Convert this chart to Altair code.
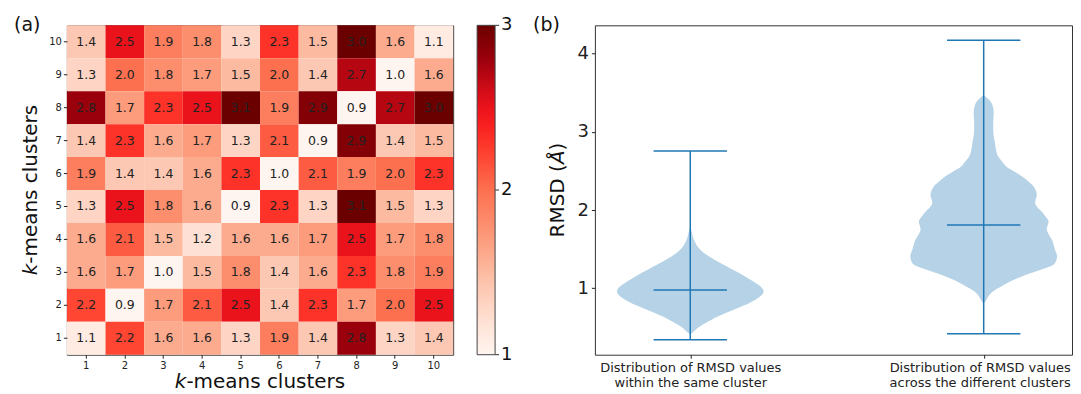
import json
import altair as alt
import pandas as pd

FONT = "DejaVu Sans"

# ---------------- panel (a): heatmap data ----------------
col_ids = [1, 2, 3, 4, 5, 6, 7, 8, 9, 10]
row_ids = [10, 9, 8, 7, 6, 5, 4, 3, 2, 1]
row10 = [1.4, 2.5, 1.9, 1.8, 1.3, 2.3, 1.5, 3.0, 1.6, 1.1]
row9 = [1.3, 2.0, 1.8, 1.7, 1.5, 2.0, 1.4, 2.7, 1.0, 1.6]
row8 = [2.8, 1.7, 2.3, 2.5, 3.1, 1.9, 2.9, 0.9, 2.7, 3.0]
row7 = [1.4, 2.3, 1.6, 1.7, 1.3, 2.1, 0.9, 2.9, 1.4, 1.5]
row6 = [1.9, 1.4, 1.4, 1.6, 2.3, 1.0, 2.1, 1.9, 2.0, 2.3]
row5 = [1.3, 2.5, 1.8, 1.6, 0.9, 2.3, 1.3, 3.1, 1.5, 1.3]
row4 = [1.6, 2.1, 1.5, 1.2, 1.6, 1.6, 1.7, 2.5, 1.7, 1.8]
row3 = [1.6, 1.7, 1.0, 1.5, 1.8, 1.4, 1.6, 2.3, 1.8, 1.9]
row2 = [2.2, 0.9, 1.7, 2.1, 2.5, 1.4, 2.3, 1.7, 2.0, 2.5]
row1 = [1.1, 2.2, 1.6, 1.6, 1.3, 1.9, 1.4, 2.8, 1.3, 1.4]
matrix_rows = [row10, row9, row8, row7, row6, row5, row4, row3, row2, row1]

# colour map as seen in the colour bar, and colour bar ticks
cmap_stops = [1.0, 1.25, 1.5, 1.75, 2.0, 2.25, 2.45, 2.6, 2.8, 3.0]
cmap_colors = ["#fff5f0", "#fedccd", "#fcbba1", "#fc9474", "#fc7050",
               "#ff3b2c", "#f5161c", "#d30d18", "#9a000c", "#6b0000"]
cbar_ticks = [1, 2, 3]
cbar_range = [1, 3]

# ---------------- panel (b): violin data ----------------
positions = [1, 2]
mins = [0.343, 0.419]
medians = [0.98, 1.81]
maxs = [2.754, 4.168]
x_labels = [["Distribution of RMSD values", "within the same cluster"],
            ["Distribution of RMSD values", "across the different clusters"]]
y_ticks = [1, 2, 3, 4]
y_domain = [0.152, 4.359]
x_domain = [0.675, 2.301]

# density profiles: RMSD value and relative half-width (1 = widest)
v1_y = [0.41, 0.45, 0.50, 0.54, 0.60, 0.69, 0.75, 0.81, 0.88, 0.96, 1.03,
        1.11, 1.20, 1.28, 1.35, 1.41, 1.50, 1.62, 1.72, 1.81]
v1_w = [0.0, 0.05, 0.11, 0.18, 0.29, 0.50, 0.65, 0.80, 0.93, 1.0, 0.95,
        0.82, 0.66, 0.50, 0.36, 0.25, 0.13, 0.05, 0.02, 0.0]
v2_y = [0.80, 0.84, 0.90, 0.97, 1.03, 1.10, 1.17, 1.24, 1.30, 1.36, 1.41,
        1.50, 1.62, 1.70, 1.75, 1.80, 1.85, 1.92, 1.98, 2.04, 2.09, 2.14,
        2.19, 2.25, 2.30, 2.37, 2.43, 2.49, 2.55, 2.62, 2.68, 2.76, 2.85,
        3.02, 3.12, 3.25, 3.35, 3.42, 3.47]
v2_w = [0.0, 0.03, 0.065, 0.14, 0.25, 0.39, 0.57, 0.79, 0.95, 0.99, 1.0,
        0.97, 0.93, 0.88, 0.86, 0.87, 0.885, 0.84, 0.79, 0.73, 0.70, 0.71,
        0.725, 0.71, 0.68, 0.60, 0.52, 0.42, 0.315, 0.25, 0.20, 0.17, 0.155,
        0.13, 0.13, 0.137, 0.115, 0.06, 0.0]

BLUE = "#1f77b4"
HALF_WIDTH = 0.25
CAP_HALF = 0.125

# ---------------- tables ----------------
heat_df = pd.DataFrame(
    [{"col": c, "row": r, "val": v}
     for r, vals in zip(row_ids, matrix_rows)
     for c, v in zip(col_ids, vals)]
)
cbar_df = pd.DataFrame({"v": cbar_ticks, "t": [str(t) for t in cbar_ticks]})

body_rows = []
for g, (pos, ys_, ws_) in enumerate([(positions[0], v1_y, v1_w), (positions[1], v2_y, v2_w)]):
    for y, w in zip(ys_, ws_):
        body_rows.append({"g": g, "y": y, "x": pos - HALF_WIDTH * w, "x2": pos + HALF_WIDTH * w})
body_df = pd.DataFrame(body_rows)

cap_rows = []
for pos, a, m, b in zip(positions, mins, medians, maxs):
    for v in (a, m, b):
        cap_rows.append({"x": pos - CAP_HALF, "x2": pos + CAP_HALF, "y": v})
cap_df = pd.DataFrame(cap_rows)
stem_df = pd.DataFrame({"x": positions, "lo": mins, "hi": maxs})


def label(text, x, y, size, angle=0, baseline="middle", style="normal", align="left"):
    return alt.Chart(pd.DataFrame({"t": [text]})).mark_text(
        font=FONT, fontSize=size, angle=angle, baseline=baseline, align=align,
        fontStyle=style, color="#111"
    ).encode(text="t:N", x=alt.value(x), y=alt.value(y))


# ---------------- panel (a) ----------------
HW, HH = 387, 330
CB_OFFSET, CB_THICK = 24, 18
CB_RIGHT = HW + CB_OFFSET + CB_THICK

band = alt.Scale(paddingInner=0, paddingOuter=0)
xs = alt.X("col:O", sort=col_ids, scale=band,
           axis=alt.Axis(title=None, labelAngle=0, labelFontSize=10, tickSize=3.5,
                         labelPadding=2, domain=False))
ys = alt.Y("row:O", sort=row_ids, scale=band,
           axis=alt.Axis(title=None, labelFontSize=10, tickSize=3.5,
                         labelPadding=2, domain=False))
ys_plain = alt.Y("row:O", sort=row_ids, scale=band, axis=None)

rect = alt.Chart(heat_df).mark_rect(strokeWidth=0).encode(
    x=xs, y=ys,
    color=alt.Color("val:Q",
                    scale=alt.Scale(domain=cmap_stops, range=cmap_colors, clamp=True,
                                    interpolate="rgb"),
                    legend=alt.Legend(title=None, values=cbar_ticks, orient="right",
                                      gradientLength=HH, gradientThickness=CB_THICK,
                                      offset=CB_OFFSET, labelExpr="''", labelFontSize=1,
                                      gradientStrokeColor="#444", gradientStrokeWidth=1)),
)
cell_text = alt.Chart(heat_df).mark_text(font=FONT, fontSize=12.5, color="#222").encode(
    x=xs, y=ys_plain, text=alt.Text("val:Q", format=".1f")
)

cb_scale = alt.Scale(domain=cbar_range, nice=False, zero=False)
cb_ticks = alt.Chart(cbar_df).mark_rule(color="#333", strokeWidth=1).encode(
    x=alt.value(CB_RIGHT), x2=alt.value(CB_RIGHT + 4),
    y=alt.Y("v:Q", scale=cb_scale, axis=None),
)
cb_labels = alt.Chart(cbar_df).mark_text(
    font=FONT, fontSize=18, align="left", baseline="middle", color="#111"
).encode(
    x=alt.value(CB_RIGHT + 6),
    y=alt.Y("v:Q", scale=cb_scale, axis=None),
    text="t:N",
)

k_w = 0.579 * 20
title_w = 8.537 * 20
x_start = HW / 2 - title_w / 2
y_start = HH / 2 + title_w / 2
X_TITLE_Y = 363.5

heat = alt.layer(
    rect, cell_text, cb_ticks, cb_labels,
    label("(a)", -53, 0, 19),
    label("k", x_start, X_TITLE_Y, 20, baseline="alphabetic", style="italic"),
    label("-means clusters", x_start + k_w, X_TITLE_Y, 20, baseline="alphabetic"),
    label("k", -29.5, y_start, 20, angle=270, baseline="alphabetic", style="italic"),
    label("-means clusters", -29.5, y_start - k_w, 20, angle=270, baseline="alphabetic"),
).resolve_scale(y="independent").properties(width=HW, height=HH)

# ---------------- panel (b) ----------------
VW, VH = 478, 330
label_expr = "datum.value == 1 ? {} : {}".format(json.dumps(x_labels[0]), json.dumps(x_labels[1]))
vx = alt.Scale(domain=x_domain, nice=False, zero=False)
vy = alt.Scale(domain=y_domain, nice=False, zero=False)
x_axis = alt.Axis(values=positions, labelExpr=label_expr, labelFontSize=13,
                  labelLineHeight=15, tickSize=3.5, labelPadding=3, title=None,
                  domain=False, grid=False, labelFlush=False, labelLimit=0,
                  labelOverlap=False,
                  labelOffset={"condition": {"test": "datum.value == 2", "value": -4},
                               "value": 0})
y_axis = alt.Axis(values=y_ticks, labelFontSize=18, tickSize=3.5, labelPadding=3,
                  title=None, domain=False, grid=False, format="d")

bodies = alt.Chart(body_df).mark_area(
    orient="horizontal", interpolate="monotone", color=BLUE, opacity=0.33
).encode(
    y=alt.Y("y:Q", scale=vy, axis=y_axis),
    x=alt.X("x:Q", scale=vx, axis=x_axis),
    x2="x2:Q",
    detail="g:N",
)
caps = alt.Chart(cap_df).mark_rule(color=BLUE, strokeWidth=1.5).encode(
    x=alt.X("x:Q", scale=vx), x2="x2:Q", y=alt.Y("y:Q", scale=vy)
)
stems = alt.Chart(stem_df).mark_rule(color=BLUE, strokeWidth=1.5).encode(
    x=alt.X("x:Q", scale=vx), y=alt.Y("lo:Q", scale=vy), y2="hi:Q"
)

rm_w = 3.671 * 20
a_w = 0.684 * 20
rm_start = VH / 2 + (rm_w + a_w + 0.390 * 20) / 2

violin = alt.layer(
    bodies, caps, stems,
    label("(b)", -62, 0, 19),
    label("RMSD (", -30.5, rm_start, 20, angle=270, baseline="alphabetic"),
    label("Å", -30.5, rm_start - rm_w, 20, angle=270, baseline="alphabetic", style="italic"),
    label(")", -30.5, rm_start - rm_w - a_w, 20, angle=270, baseline="alphabetic"),
).properties(width=VW, height=VH)

chart = alt.hconcat(heat, violin, spacing=142, bounds="flush").resolve_scale(
    color="independent"
).resolve_legend(color="independent").properties(
    padding={"left": 5, "top": 7, "right": 0, "bottom": 0}
).configure(font=FONT).configure_view(
    stroke="#333", strokeWidth=1
).configure_axis(
    labelFont=FONT, labelColor="#222", tickColor="#222", tickWidth=1, grid=False
)

chart.save("out.html", embed_options={"renderer": "svg", "actions": False})
